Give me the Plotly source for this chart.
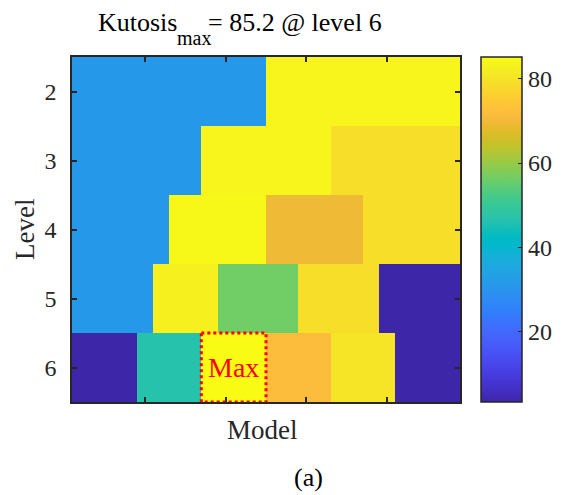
import plotly.graph_objects as go

# ---------------- data ----------------
levels = [2, 3, 4, 5, 6]
n_models = 48
# kurtosis value of each block, per level (left to right)
kurt_l2 = [31.0, 84.0]
kurt_l3 = [31.0, 84.0, 79.0]
kurt_l4 = [31.0, 84.6, 69.5, 79.0]
kurt_l5 = [31.0, 83.0, 56.5, 79.0, 3.2]
kurt_l6 = [3.2, 46.5, 85.2, 72.0, 80.5, 3.2]
# number of model columns covered by each block
span_l2 = [24, 24]
span_l3 = [16, 16, 16]
span_l4 = [12, 12, 12, 12]
span_l5 = [10, 8, 10, 10, 10]
span_l6 = [8, 8, 8, 8, 8, 8]
cbar_ticks = [20, 40, 60, 80]
x_ticks = [10, 20, 30, 40]

values = [kurt_l2, kurt_l3, kurt_l4, kurt_l5, kurt_l6]
spans = [span_l2, span_l3, span_l4, span_l5, span_l6]

# build matrix
z = []
for vals, sp in zip(values, spans):
    row = []
    for v, s in zip(vals, sp):
        row += [v] * s
    z.append(row)

zmin = min(min(r) for r in z)
zmax = max(max(r) for r in z)

# locate the maximum block
best = None
for li, (vals, sp) in enumerate(zip(values, spans)):
    start = 0
    for v, s in zip(vals, sp):
        if best is None or v > best[0]:
            best = (v, levels[li], start, start + s)
        start += s
max_val, max_level, c0, c1 = best
x_first = 1.0  # left edge of first model column

parula = [
    (0.2422, 0.1504, 0.6603), (0.2504, 0.1650, 0.7076), (0.2578, 0.1818, 0.7511), (0.2647, 0.1978, 0.7952),
    (0.2706, 0.2147, 0.8364), (0.2751, 0.2342, 0.8710), (0.2783, 0.2559, 0.8991), (0.2803, 0.2782, 0.9221),
    (0.2813, 0.3006, 0.9414), (0.2810, 0.3228, 0.9579), (0.2795, 0.3447, 0.9717), (0.2760, 0.3667, 0.9829),
    (0.2699, 0.3892, 0.9906), (0.2602, 0.4123, 0.9952), (0.2440, 0.4358, 0.9988), (0.2206, 0.4603, 0.9973),
    (0.1963, 0.4847, 0.9892), (0.1834, 0.5074, 0.9798), (0.1786, 0.5289, 0.9682), (0.1764, 0.5499, 0.9520),
    (0.1687, 0.5703, 0.9359), (0.1540, 0.5902, 0.9218), (0.1460, 0.6091, 0.9079), (0.1380, 0.6276, 0.8973),
    (0.1248, 0.6459, 0.8883), (0.1113, 0.6635, 0.8763), (0.0952, 0.6798, 0.8598), (0.0689, 0.6948, 0.8394),
    (0.0297, 0.7082, 0.8163), (0.0036, 0.7203, 0.7917), (0.0067, 0.7312, 0.7660), (0.0433, 0.7411, 0.7394),
    (0.0964, 0.7500, 0.7120), (0.1408, 0.7584, 0.6842), (0.1717, 0.7670, 0.6554), (0.1938, 0.7758, 0.6251),
    (0.2161, 0.7843, 0.5923), (0.2470, 0.7918, 0.5567), (0.2906, 0.7973, 0.5188), (0.3406, 0.8008, 0.4789),
    (0.3909, 0.8029, 0.4354), (0.4456, 0.8024, 0.3909), (0.5044, 0.7993, 0.3480), (0.5616, 0.7942, 0.3045),
    (0.6174, 0.7876, 0.2612), (0.6720, 0.7793, 0.2227), (0.7242, 0.7698, 0.1910), (0.7738, 0.7598, 0.1646),
    (0.8203, 0.7498, 0.1535), (0.8634, 0.7406, 0.1596), (0.9035, 0.7330, 0.1774), (0.9393, 0.7288, 0.2100),
    (0.9728, 0.7298, 0.2394), (0.9956, 0.7434, 0.2371), (0.9970, 0.7659, 0.2199), (0.9952, 0.7893, 0.2028),
    (0.9892, 0.8136, 0.1885), (0.9786, 0.8386, 0.1766), (0.9676, 0.8639, 0.1643), (0.9610, 0.8890, 0.1537),
    (0.9597, 0.9135, 0.1423), (0.9628, 0.9373, 0.1265), (0.9691, 0.9606, 0.1064), (0.9769, 0.9839, 0.0805),
]
colorscale = [[i / (len(parula) - 1), "rgb(%d,%d,%d)" % tuple(round(c * 255) for c in p)]
              for i, p in enumerate(parula)]

FONT = "Liberation Serif, Times New Roman, serif"
TXT = "#262626"

fig = go.Figure(go.Heatmap(
    z=z, x0=x_first + 0.5, dx=1, y=levels,
    zmin=zmin, zmax=zmax, colorscale=colorscale,
    colorbar=dict(
        x=1.054, xanchor="left", xref="paper",
        y=0.5, yanchor="middle", len=1.0, lenmode="fraction",
        thickness=41, thicknessmode="pixels",
        outlinewidth=1.5, outlinecolor=TXT,
        ticks="inside", ticklen=4, tickcolor=TXT,
        tickvals=cbar_ticks,
        tickfont=dict(family=FONT, size=24, color=TXT),
        ypad=0, xpad=0,
    ),
    hoverinfo="skip",
))

# Max box derived from data
fig.add_shape(type="rect", xref="x", yref="y",
              x0=x_first + c0, x1=x_first + c1,
              y0=max_level - 0.5, y1=max_level + 0.5,
              line=dict(color="red", width=3, dash="dot"))
fig.add_annotation(x=x_first + (c0 + c1) / 2, y=max_level, xref="x", yref="y",
                   text="Max", showarrow=False,
                   font=dict(family=FONT, size=28, color="red"))

W, H = 579, 495
L, R, T, B = 72, 119, 57, 93
pw, ph = W - L - R, H - T - B


def px(xp):
    return (xp - L) / pw


def py(yp):
    return (H - B - yp) / ph


# title pieces
fig.add_annotation(x=px(96), y=py(22), xref="paper", yref="paper", xanchor="left", yanchor="middle",
                   text="Kutosis", showarrow=False, font=dict(family=FONT, size=26, color="black"))
fig.add_annotation(x=px(175), y=py(38), xref="paper", yref="paper", xanchor="left", yanchor="middle",
                   text="max", showarrow=False, font=dict(family=FONT, size=20, color="black"))
fig.add_annotation(x=px(384), y=py(22), xref="paper", yref="paper", xanchor="right", yanchor="middle",
                   text="= %.1f @ level %d" % (max_val, max_level), showarrow=False,
                   font=dict(family=FONT, size=26, color="black"))
# axis labels
fig.add_annotation(x=px(25), y=py(230), xref="paper", yref="paper", xanchor="center", yanchor="middle",
                   text="Level", textangle=-90, showarrow=False, font=dict(family=FONT, size=27, color=TXT))
fig.add_annotation(x=px(262), y=py(430), xref="paper", yref="paper", xanchor="center", yanchor="middle",
                   text="Model", showarrow=False, font=dict(family=FONT, size=27, color=TXT))
fig.add_annotation(x=px(308), y=py(478), xref="paper", yref="paper", xanchor="center", yanchor="middle",
                   text="(a)", showarrow=False, font=dict(family=FONT, size=26, color="black"))

fig.update_layout(
    width=W, height=H, margin=dict(l=L, r=R, t=T, b=B, pad=0),
    paper_bgcolor="white", plot_bgcolor="white",
    font=dict(family=FONT, color=TXT),
    xaxis=dict(range=[x_first, x_first + n_models], tickvals=x_ticks, showticklabels=False,
               ticks="inside", ticklen=5, tickcolor=TXT, tickwidth=1.5,
               showline=True, linecolor=TXT, linewidth=1.5, mirror="ticks",
               showgrid=False, zeroline=False),
    yaxis=dict(range=[levels[-1] + 0.5, levels[0] - 0.5], tickvals=levels,
               ticks="inside", ticklen=5, tickcolor=TXT, tickwidth=1.5,
               showline=True, linecolor=TXT, linewidth=1.5, mirror="ticks",
               ticklabelstandoff=9,
               tickfont=dict(family=FONT, size=24, color=TXT),
               showgrid=False, zeroline=False),
)

fig.write_html("out.html")
